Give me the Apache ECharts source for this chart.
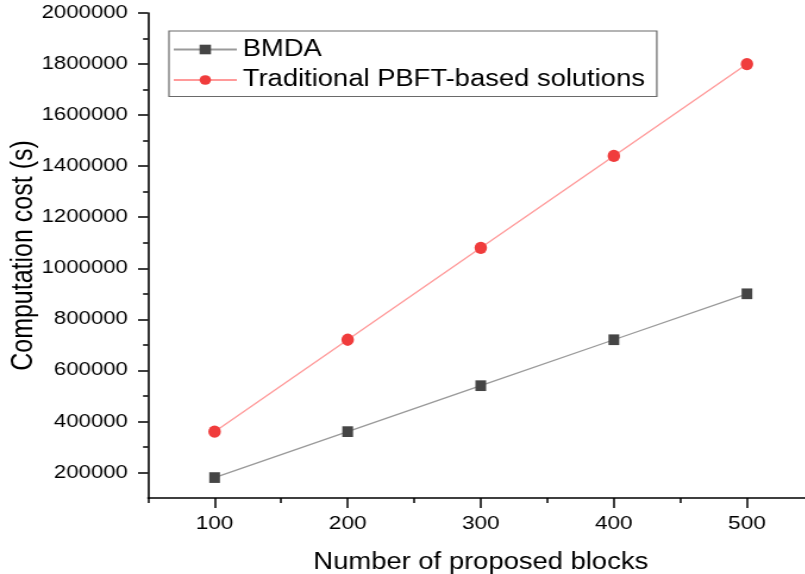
<!DOCTYPE html>
<html>
<head>
<meta charset="utf-8">
<script src="https://cdn.jsdelivr.net/npm/echarts@6/dist/echarts.min.js"></script>
<style>
  html, body { margin: 0; padding: 0; background: #fff; overflow: hidden; width: 805px; height: 574px; }
  #c { width: 700px; height: 574px; transform: scaleX(1.19); transform-origin: 0 0; }
</style>
</head>
<body>
<div id="c"></div>
<script>
const blocks = [100, 200, 300, 400, 500];
const bmda = [180000, 360000, 540000, 720000, 900000];
const pbft = [360000, 720000, 1080000, 1440000, 1800000];
const xTicks = [100, 200, 300, 400, 500];
const xMinorTicks = [50, 150, 250, 350, 450, 550];
const yTicks = [200000, 400000, 600000, 800000, 1000000, 1200000, 1400000, 1600000, 1800000, 2000000];
const yMinorTicks = [300000, 500000, 700000, 900000, 1100000, 1300000, 1500000, 1700000, 1900000];
const seriesNames = ['BMDA', 'Traditional PBFT-based solutions'];

const FONT = '"Liberation Sans", Arial, sans-serif';
const chart = echarts.init(document.getElementById('c'), null, { renderer: 'canvas' });

const X_MIN = 50, X_MAX = 550, Y_MIN = 100000, Y_MAX = 2000000;

chart.setOption({
  animation: false,
  backgroundColor: '#fff',
  textStyle: { fontFamily: FONT, color: '#000' },
  grid: { left: 124.4, right: 16.4, top: 13, bottom: 76, containLabel: false, outerBoundsMode: 'none' },
  legend: {
    left: 142, top: 31,
    orient: 'vertical',
    data: seriesNames,
    borderColor: '#6a6a6a', borderWidth: 1.2,
    padding: [7, 10, 5, 3],
    itemGap: 7.5,
    itemWidth: 53, itemHeight: 12,
    textStyle: { fontFamily: FONT, fontSize: 23, color: '#000', padding: [0, 0, 0, 0] }
  },
  xAxis: [{
    type: 'value', min: X_MIN, max: X_MAX,
    name: 'Number of proposed blocks', nameLocation: 'middle', nameGap: 53, nameMoveOverlap: false,
    nameTextStyle: { fontFamily: FONT, fontSize: 23, color: '#000' },
    axisLine: { show: true, onZero: false, lineStyle: { color: '#000', width: 1.6 } },
    axisTick: { show: true, inside: false, length: 10, customValues: xTicks, lineStyle: { color: '#000', width: 1.5 } },
    axisLabel: { customValues: xTicks, margin: 16, fontFamily: FONT, fontSize: 19, color: '#000', formatter: v => String(v) },
    splitLine: { show: false }
  }, {
    type: 'value', min: X_MIN, max: X_MAX, position: 'bottom',
    axisLine: { show: false, onZero: false },
    axisTick: { show: true, length: 5, customValues: xMinorTicks, lineStyle: { color: '#000', width: 1.5 } },
    axisLabel: { show: false },
    splitLine: { show: false }
  }],
  yAxis: [{
    type: 'value', min: Y_MIN, max: Y_MAX,
    name: 'Computation cost (s)', nameLocation: 'middle', nameGap: 92, nameRotate: 90, nameMoveOverlap: false,
    nameTextStyle: { fontFamily: FONT, fontSize: 25, color: '#000' },
    axisLine: { show: true, onZero: false, lineStyle: { color: '#000', width: 1.6 } },
    axisTick: { show: true, inside: false, length: 8.4, customValues: yTicks, lineStyle: { color: '#000', width: 1.5 } },
    axisLabel: { customValues: yTicks, margin: 17, fontFamily: FONT, fontSize: 18.6, color: '#000', formatter: v => String(v) },
    splitLine: { show: false }
  }, {
    type: 'value', min: Y_MIN, max: Y_MAX, position: 'left',
    axisLine: { show: false, onZero: false },
    axisTick: { show: true, length: 4.2, customValues: yMinorTicks, lineStyle: { color: '#000', width: 1.5 } },
    axisLabel: { show: false },
    splitLine: { show: false }
  }],
  series: [{
    name: seriesNames[0], type: 'line', xAxisIndex: 0, yAxisIndex: 0,
    data: blocks.map((b, i) => [b, bmda[i]]),
    symbol: 'rect', symbolSize: [9, 10.7],
    lineStyle: { color: '#9a9a9a', width: 1.3 },
    itemStyle: { color: '#454545' }
  }, {
    name: seriesNames[1], type: 'line', xAxisIndex: 0, yAxisIndex: 0,
    data: blocks.map((b, i) => [b, pbft[i]]),
    symbol: 'circle', symbolSize: [10.5, 12.3],
    lineStyle: { color: '#ff9a9a', width: 1.3 },
    itemStyle: { color: '#f03c3c' }
  }]
});
</script>
</body>
</html>
